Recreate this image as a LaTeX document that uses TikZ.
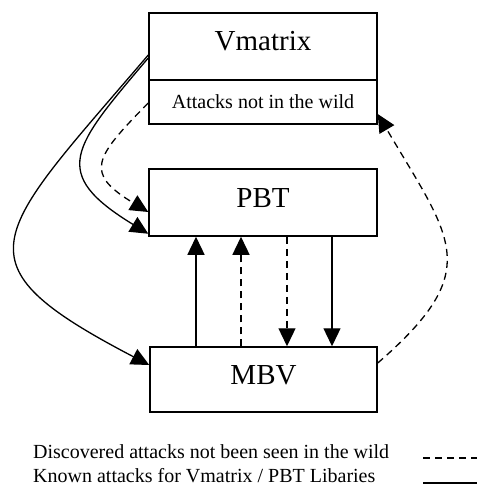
\documentclass[tikz,border=0pt]{standalone}
\usepackage{fontspec}
\setmainfont{Liberation Serif}
\usetikzlibrary{arrows.meta}
\begin{document}
\begin{tikzpicture}[x=1pt,y=-1pt,
  box/.style={draw, line width=1.5pt, inner sep=0pt, minimum width=228pt},
  bigtext/.style={font=\fontsize{29}{34}\selectfont, text height=19pt, text depth=10pt},
  smalltext/.style={font=\fontsize{20}{24}\selectfont},
  conn/.style={line width=1.3pt, -{Triangle[length=18pt,width=17pt]}},
  dashconn/.style={conn, dash pattern=on 7pt off 5pt},
  legline/.style={line width=1.3pt}]
\useasboundingbox (0,0) rectangle (484,486);

% boxes
\node[box, bigtext, minimum height=67pt] (vtop) at (263,46.5) {Vmatrix};
\node[box, smalltext, minimum height=44pt] (vbot) at (263,102) {Attacks not in the wild};
\node[box, bigtext, minimum height=67pt] (pbt) at (263,202.5) {PBT};
\node[box, bigtext, minimum height=65pt, minimum width=227pt] (mbv) at (263.5,379.5) {MBV};

% vertical connectors
\coordinate (c1) at (196,0);
\coordinate (c2) at (241,0);
\coordinate (c3) at (287,0);
\coordinate (c4) at (332,0);
\draw[conn] (mbv.north -| c1) -- (pbt.south -| c1);
\draw[dashconn] (mbv.north -| c2) -- (pbt.south -| c2);
\draw[dashconn] (pbt.south -| c3) -- (mbv.north -| c3);
\draw[conn] (pbt.south -| c4) -- (mbv.north -| c4);

% curves from Vmatrix
\draw[conn] ([yshift=-8.5pt]vtop.west) .. controls (-8,238) and (-48,262) .. ([yshift=14.5pt]mbv.west);
\draw[conn] ([yshift=-11.5pt]vtop.west) .. controls (72,148) and (49,173) .. ([yshift=3pt]pbt.south west);
\draw[dashconn] ([yshift=-1pt]vbot.west) .. controls (94,158) and (84,173) .. ([yshift=-9.5pt]pbt.west);

% curve from MBV back to Vmatrix
\draw[dashconn] ([yshift=16.5pt]mbv.east) .. controls (485,270) and (452,240) .. ([yshift=-12pt]vbot.east);

% legend
\node[smalltext, anchor=base west, inner sep=0pt] (leg1) at (33,458) {Discovered attacks not been seen in the wild};
\node[smalltext, anchor=base west, inner sep=0pt] (leg2) at (33,482) {Known attacks for Vmatrix / PBT Libaries};
\coordinate (d1) at (423,458);
\coordinate (d2) at (477,458);
\coordinate (s1) at (423,483);
\coordinate (s2) at (477,483);
\draw[legline, dash pattern=on 7pt off 5pt] (d1) -- (d2);
\draw[legline] (s1) -- (s2);
\end{tikzpicture}
\end{document}
